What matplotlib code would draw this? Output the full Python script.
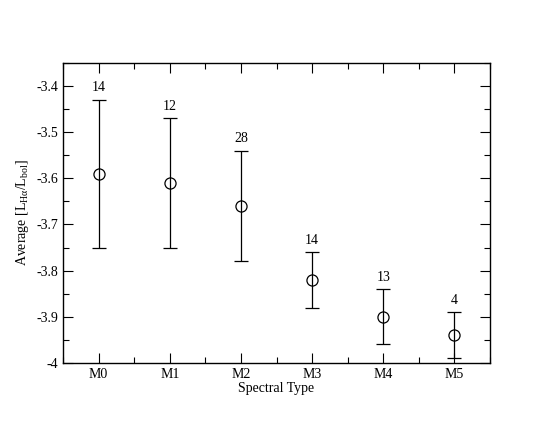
import matplotlib
matplotlib.use("Agg")
import matplotlib.pyplot as plt
import numpy as np

plt.rcParams['font.family'] = ['Liberation Serif', 'DejaVu Serif']
plt.rcParams['mathtext.fontset'] = 'custom'
plt.rcParams['mathtext.rm'] = 'Liberation Serif'
plt.rcParams['mathtext.it'] = 'Liberation Serif:italic'

spectral_types = ["M0", "M1", "M2", "M3", "M4", "M5"]
avg_ratio = [-3.59, -3.61, -3.66, -3.82, -3.90, -3.94]
err_upper = [-3.43, -3.47, -3.54, -3.76, -3.84, -3.89]
err_lower = [-3.75, -3.75, -3.78, -3.88, -3.96, -3.99]
counts = [14, 12, 28, 14, 13, 4]

x = np.arange(len(spectral_types))
y = np.array(avg_ratio)
yerr = [y - np.array(err_lower), np.array(err_upper) - y]

fig = plt.figure(figsize=(5.5, 4.25), dpi=100)
ax = fig.add_axes([0.1145, 0.146, 0.7765, 0.706])

ax.errorbar(x, y, yerr=yerr, fmt='o', mfc='none', mec='black', ms=8,
            mew=0.9, ecolor='black', elinewidth=0.9, capsize=5, capthick=0.9)

for xi, top, n in zip(x, err_upper, counts):
    ax.text(xi, top + 0.012, str(n), ha='center', va='bottom', fontsize=10)

ax.set_xlim(-0.5, 5.5)
ax.set_ylim(-4, -3.35)
ax.set_xticks(x)
ax.set_xticklabels(spectral_types)
ax.set_xticks(np.arange(-0.5, 5.6, 1.0), minor=True)
ax.set_yticks(np.arange(-4, -3.35, 0.1))
ax.set_yticklabels(["-4", "-3.9", "-3.8", "-3.7", "-3.6", "-3.5", "-3.4"])
ax.set_yticks(np.arange(-3.95, -3.35, 0.1), minor=True)
ax.tick_params(which='both', direction='in', top=True, right=True, labelsize=10)
ax.tick_params(which='major', length=7, width=0.8)
ax.tick_params(which='minor', length=4, width=0.8)
for s in ax.spines.values():
    s.set_linewidth(1.0)

ax.set_xlabel("Spectral Type", fontsize=10, labelpad=1)
ax.set_ylabel(r"Average [L$_{\mathrm{H\alpha}}$/L$_{\mathrm{bol}}$]", fontsize=10)

fig.savefig("out.png", dpi=100)
